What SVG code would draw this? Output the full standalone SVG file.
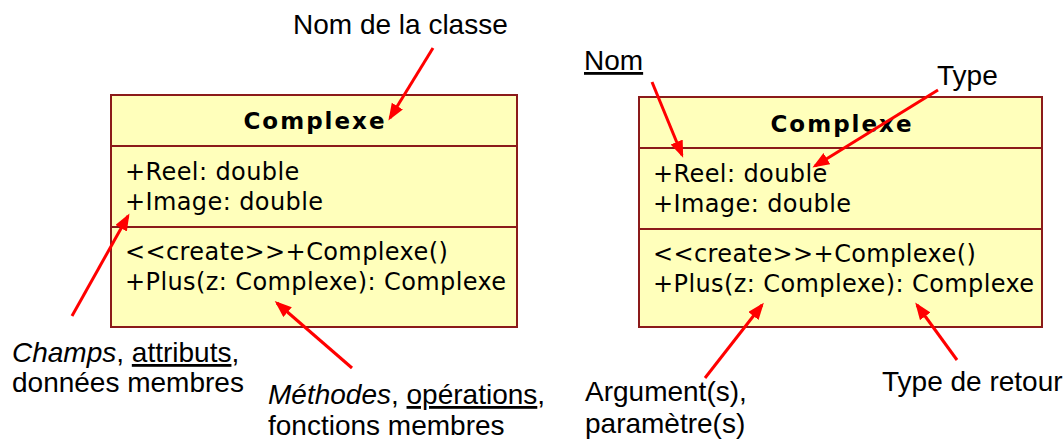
<svg xmlns="http://www.w3.org/2000/svg" width="1064" height="441" viewBox="0 0 1064 441">
  <style>
    .box { fill: #FFFFBB; stroke: #8B1A1A; stroke-width: 2; }
    .sep { stroke: #8B1A1A; stroke-width: 2; }
    .title { font-family: "DejaVu Sans", Verdana, sans-serif; font-weight: bold; font-size: 23px; letter-spacing: 2px; fill: #000; text-anchor: middle; }
    .member { font-family: "DejaVu Sans", Verdana, sans-serif; font-size: 24px; letter-spacing: 0.4px; fill: #000; }
    .note { font-family: "Liberation Sans", Arial, sans-serif; font-size: 28px; fill: #000; }
    .arrow { stroke: #FF0000; stroke-width: 3; fill: none; marker-end: url(#head); }
  </style>
  <defs>
    <marker id="head" markerUnits="userSpaceOnUse" markerWidth="18" markerHeight="14" refX="14" refY="6.5" orient="auto">
      <path d="M0,0 L17,6.5 L0,13 Z" fill="#FF0000"/>
    </marker>
  </defs>
  <rect width="1064" height="441" fill="#FFFFFF"/>

  <!-- class box, left -->
  <g id="class-left">
    <rect class="box" x="111" y="95" width="406" height="232"/>
    <line class="sep" x1="111" y1="146" x2="517" y2="146"/>
    <line class="sep" x1="111" y1="227" x2="517" y2="227"/>
    <text class="title" x="315" y="129">Complexe</text>
    <text class="member" x="125" y="180">+Reel: double</text>
    <text class="member" x="125" y="210">+Image: double</text>
    <text class="member" x="125" y="260">&lt;&lt;create&gt;&gt;+Complexe()</text>
    <text class="member" x="125" y="290">+Plus(z: Complexe): Complexe</text>
  </g>

  <!-- class box, right -->
  <g id="class-right">
    <rect class="box" x="639" y="97" width="403" height="230"/>
    <line class="sep" x1="639" y1="148" x2="1042" y2="148"/>
    <line class="sep" x1="639" y1="229" x2="1042" y2="229"/>
    <text class="title" x="842" y="132">Complexe</text>
    <text class="member" x="653" y="182">+Reel: double</text>
    <text class="member" x="653" y="212">+Image: double</text>
    <text class="member" x="653" y="262">&lt;&lt;create&gt;&gt;+Complexe()</text>
    <text class="member" x="653" y="292">+Plus(z: Complexe): Complexe</text>
  </g>

  <!-- annotations, left -->
  <g id="label-nom-classe">
    <text class="note" x="293" y="34">Nom de la classe</text>
  </g>
  <g id="label-champs">
    <text class="note" x="12" y="362"><tspan font-style="italic">Champs</tspan>, <tspan text-decoration="underline">attributs</tspan>,</text>
    <text class="note" x="12" y="392">données membres</text>
  </g>
  <g id="label-methodes">
    <text class="note" x="268" y="404"><tspan font-style="italic">Méthodes</tspan>, <tspan text-decoration="underline">opérations</tspan>,</text>
    <text class="note" x="268" y="435">fonctions membres</text>
  </g>

  <!-- annotations, right -->
  <g id="label-nom">
    <text class="note" x="584" y="70" text-decoration="underline">Nom</text>
  </g>
  <g id="label-type">
    <text class="note" x="937" y="85">Type</text>
  </g>
  <g id="label-arguments">
    <text class="note" x="585" y="401">Argument(s),</text>
    <text class="note" x="585" y="433">paramètre(s)</text>
  </g>
  <g id="label-retour">
    <text class="note" x="882" y="391">Type de retour</text>
  </g>

  <!-- pointers -->
  <g id="connectors">
    <line class="arrow" x1="433" y1="48" x2="390" y2="118"/>
    <line class="arrow" x1="72" y1="316" x2="128" y2="216"/>
    <line class="arrow" x1="352" y1="368" x2="277" y2="303"/>
    <line class="arrow" x1="652" y1="82" x2="682" y2="155"/>
    <line class="arrow" x1="938" y1="90" x2="815" y2="166"/>
    <line class="arrow" x1="705" y1="378" x2="762" y2="305"/>
    <line class="arrow" x1="957" y1="360" x2="917" y2="305"/>
  </g>
</svg>
